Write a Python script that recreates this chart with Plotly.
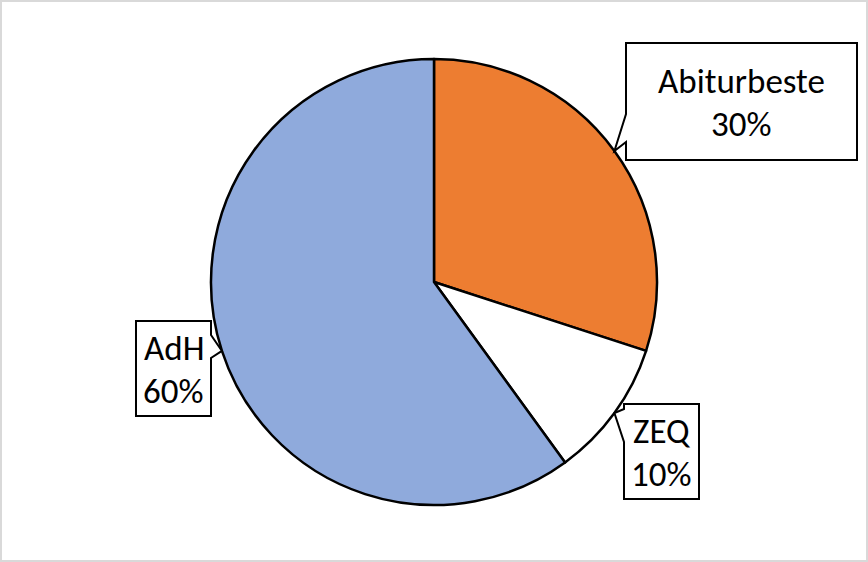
import math
import plotly.graph_objects as go

# ---- data ----
categories = ["Abiturbeste", "ZEQ", "AdH"]
values = [30, 10, 60]
colors = ["#ED7D31", "#FFFFFF", "#8FAADC"]

W, H = 868, 562
CX, CY, R = 434, 282, 223  # pie centre / radius in pixels (layout)

def px(x):
    return x / W

def py(y):
    return 1 - y / H

fig = go.Figure()
fig.add_trace(go.Pie(
    labels=categories,
    values=values,
    sort=False,
    direction="clockwise",
    rotation=0,
    marker=dict(colors=colors, line=dict(color="black", width=2.5)),
    textinfo="none",
    hoverinfo="label+percent",
    showlegend=False,
    domain=dict(x=[px(CX - R), px(CX + R)], y=[py(CY + R), py(CY - R)]),
))

total = sum(values)
# mid angles (clockwise from 12 o'clock) of each slice -> callout tip
tips = []
acc = 0
for v in values:
    mid = (acc + v / 2) / total * 2 * math.pi
    tips.append((CX + R * math.sin(mid), CY - R * math.cos(mid)))
    acc += v

# callout boxes (layout): x0, x1, y0, y1, side, pointer base a, b
boxes = {
    "Abiturbeste": (626, 857, 43, 160, "left", 114, 142),
    "ZEQ": (624, 699, 404, 499, "left", 409, 442),
    "AdH": (136, 211, 321, 416, "right", 335, 358),
}

shapes = [dict(type="rect", xref="paper", yref="paper", x0=0, x1=1, y0=0, y1=1,
               line=dict(color="#D9D9D9", width=4), fillcolor="rgba(0,0,0,0)", layer="below")]
annotations = []
FONT = dict(family="Carlito, Liberation Sans, Arial, sans-serif", size=35, color="black")

for name, val, tip in zip(categories, values, tips):
    x0, x1, y0, y1, side, a, b = boxes[name]
    tx, ty = tip
    if side == "left":
        pts = [(x0, y0), (x1, y0), (x1, y1), (x0, y1), (x0, b), (tx, ty), (x0, a)]
    else:
        pts = [(x0, y0), (x1, y0), (x1, a), (tx, ty), (x1, b), (x1, y1), (x0, y1)]
    path = "M " + " L ".join(f"{px(x):.5f},{py(y):.5f}" for x, y in pts) + " Z"
    shapes.append(dict(type="path", xref="paper", yref="paper", path=path,
                       fillcolor="white", line=dict(color="black", width=2), layer="above"))
    cxb = (x0 + x1) / 2
    cyb = (y0 + y1) / 2
    pct = f"{round(val / total * 100)}%"
    annotations.append(dict(x=px(cxb), y=py(cyb - 21), xref="paper", yref="paper",
                            text=name, showarrow=False, font=FONT,
                            xanchor="center", yanchor="middle"))
    annotations.append(dict(x=px(cxb), y=py(cyb + 22), xref="paper", yref="paper",
                            text=pct, showarrow=False, font=FONT,
                            xanchor="center", yanchor="middle"))

fig.update_layout(
    width=W, height=H,
    margin=dict(l=0, r=0, t=0, b=0),
    paper_bgcolor="white",
    plot_bgcolor="white",
    shapes=shapes,
    annotations=annotations,
)

fig.write_html("out.html")
